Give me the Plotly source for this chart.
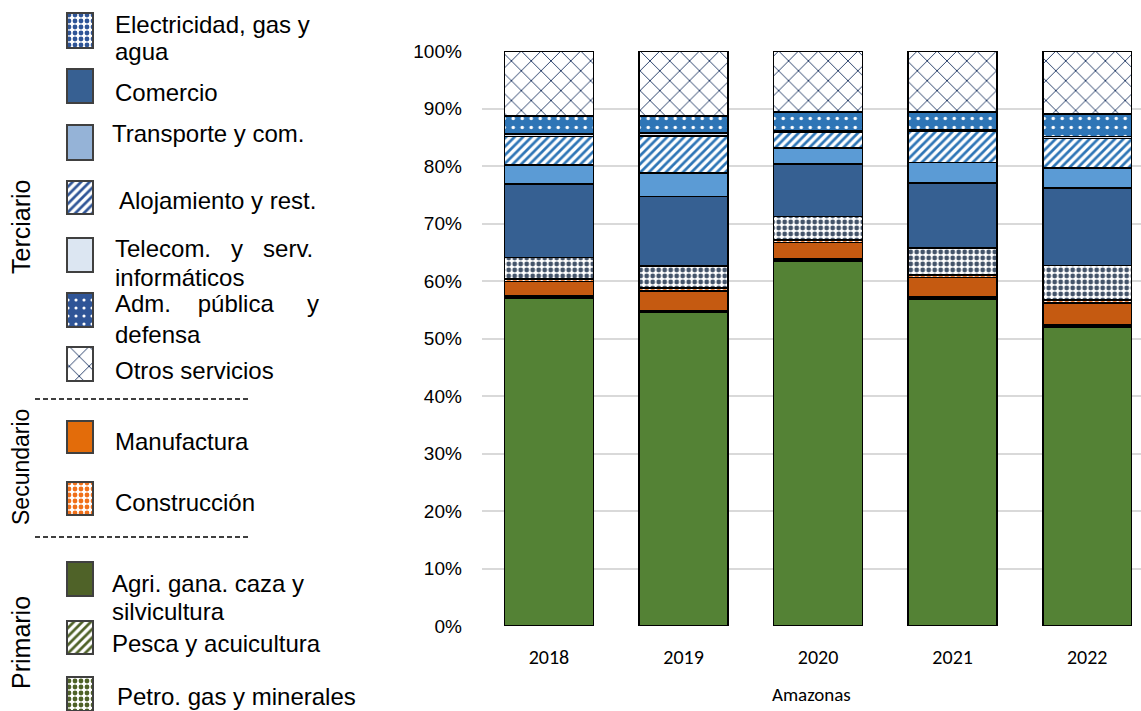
import plotly.graph_objects as go

# ---- data: share of departmental GDP by activity (%) ----
years = ["2018", "2019", "2020", "2021", "2022"]

agri = [57.0, 54.5, 63.4, 56.9, 51.9]
pesca = [0.2, 0.2, 0.2, 0.2, 0.2]
petro = [0.2, 0.2, 0.2, 0.2, 0.2]
manufactura = [2.5, 3.4, 2.9, 3.3, 3.9]
construccion = [0.5, 0.5, 0.4, 0.4, 0.5]
electricidad = [3.7, 3.8, 4.1, 4.7, 6.0]
comercio = [12.8, 12.1, 9.1, 11.3, 13.5]
transporte = [3.3, 4.1, 2.8, 3.6, 3.5]
alojamiento = [4.9, 6.4, 2.7, 5.4, 5.1]
telecom = [0.5, 0.5, 0.3, 0.3, 0.3]
adm_publica = [3.1, 3.0, 3.3, 3.1, 3.9]
otros = [11.3, 11.3, 10.6, 10.6, 11.0]

y_ticks = [0, 10, 20, 30, 40, 50, 60, 70, 80, 90, 100]
y_tick_text = [f"{v}%" for v in y_ticks]
x_title = "Amazonas"

W, H = 1141, 711
ARIAL = "Arial, Liberation Sans, sans-serif"
CALIBRI = "Carlito, Lato, sans-serif"


def pat(shape="", fg=None, bg=None, size=8, solidity=0.3):
    if not shape:
        return dict(shape="")
    return dict(shape=shape, fgcolor=fg, bgcolor=bg, size=size,
                solidity=solidity, fillmode="replace")


# stacking order, bottom to top: (name, values, bar colour, bar pattern)
series = [
    ("Agri. gana. caza y silvicultura", agri, "#548235", pat()),
    ("Pesca y acuicultura", pesca, "#548235", pat("/", "#548235", "white", 6, 0.5)),
    ("Petro. gas y minerales", petro, "#548235", pat(".", "#548235", "white", 6, 0.5)),
    ("Manufactura", manufactura, "#C55A11", pat()),
    ("Construcción", construccion, "#ED7D31", pat(".", "#ED7D31", "white", 6, 0.5)),
    ("Electricidad, gas y agua", electricidad, "#44546A", pat(".", "#44546A", "white", 6, 0.5)),
    ("Comercio", comercio, "#366092", pat()),
    ("Transporte y com.", transporte, "#5B9BD5", pat()),
    ("Alojamiento y rest.", alojamiento, "#2E75B6", pat("/", "#2E75B6", "white", 6, 0.45)),
    ("Telecom. y serv. informáticos", telecom, "#DAE3F3", pat()),
    ("Adm. pública y defensa", adm_publica, "#2E75B6", pat(".", "white", "#2E75B6", 9, 0.12)),
    ("Otros servicios", otros, "white", pat("x", "#203864", "white", 14, 0.13)),
]

fig = go.Figure()

for name, vals, color, p in series:
    fig.add_trace(go.Bar(
        x=years, y=vals, name=name, width=0.66,
        marker=dict(color=color, pattern=p, line=dict(color="black", width=1.6)),
        showlegend=False,
    ))

# ---- hand-built legend: swatches are bars on a hidden pixel-space axis ----
NB = "\u00a0"
legend_rows = [
    # name, swatch top, swatch height, swatch colour, pattern, text lines [(text, x, centre y)]
    ("Electricidad, gas y agua", 13, 35, "#2F5597", pat(".", "#2F5597", "white", 6, 0.5),
     [("Electricidad, gas y", 113, 24), ("agua", 113, 52)]),
    ("Comercio", 69, 34, "#376092", pat(), [("Comercio", 113, 92)]),
    ("Transporte y com.", 125, 35, "#95B3D7", pat(), [("Transporte y com.", 110, 133)]),
    ("Alojamiento y rest.", 181, 33, "#2F5597", pat("/", "#2F5597", "white", 6, 0.45),
     [("Alojamiento y rest.", 117, 200)]),
    ("Telecom. y serv. informáticos", 238, 34, "#DCE6F2", pat(),
     [(f"Telecom.{NB*2} y{NB*2} serv.", 113, 248), ("informáticos", 113, 277)]),
    ("Adm. pública y defensa", 293, 34, "#2F5597", pat(".", "white", "#2F5597", 8, 0.12),
     [(f"Adm.{NB*3} pública{NB*4} y", 113, 304), ("defensa", 113, 335)]),
    ("Otros servicios", 347, 34, "white", pat("x", "#203864", "white", 14, 0.13),
     [("Otros servicios", 113, 370)]),
    ("Manufactura", 421, 32, "#E36C0A", pat(), [("Manufactura", 113, 441)]),
    ("Construcción", 482, 33, "#F79646", pat(".", "#F0701A", "white", 6, 0.5),
     [("Construcción", 113, 503)]),
    ("Agri. gana. caza y silvicultura", 562, 34, "#4F6228", pat(),
     [("Agri. gana. caza y", 110, 583), ("silvicultura", 110, 611)]),
    ("Pesca y acuicultura", 621, 33, "#4F6228", pat("/", "#4F6228", "white", 6, 0.45),
     [("Pesca y acuicultura", 110, 643)]),
    ("Petro. gas y minerales", 677, 34, "#4F6228", pat(".", "#4F6228", "white", 6, 0.5),
     [("Petro. gas y minerales", 115, 696)]),
]

LEG_FRAC = 0.4
for name, top, h, color, p, lines in legend_rows:
    fig.add_trace(go.Bar(
        x=[80], y=[h], base=[top], width=26,
        xaxis="x2", yaxis="y2",
        marker=dict(color=color, pattern=p, line=dict(color="#404040", width=1.2)),
        showlegend=False, hoverinfo="skip",
    ))

annotations = []
text_font = dict(family=ARIAL, size=24, color="black")
for name, top, h, color, p, lines in legend_rows:
    for txt, tx, ty in lines:
        annotations.append(dict(
            text=txt, x=tx / W, y=1 - ty / H, xref="paper", yref="paper",
            xanchor="left", yanchor="middle", align="left", showarrow=False, font=text_font,
        ))

# sector group labels
for label, cy, size in [("Terciario", 227, 25), ("Secundario", 467, 23), ("Primario", 643, 25)]:
    annotations.append(dict(
        text=label, x=21 / W, y=1 - cy / H, xref="paper", yref="paper",
        xanchor="center", yanchor="middle", textangle=-90, showarrow=False,
        font=dict(family=ARIAL, size=size, color="black"),
    ))

shapes = [
    dict(type="line", xref="paper", yref="paper", x0=35 / W, x1=250 / W,
         y0=1 - yy / H, y1=1 - yy / H, line=dict(color="black", width=1.5, dash="5px,3px"))
    for yy in (399, 537)
]

plot_left = 481.7
fig.update_layout(
    width=W, height=H,
    margin=dict(l=0, r=0, t=0, b=0, autoexpand=False),
    paper_bgcolor="white", plot_bgcolor="white",
    barmode="stack",
    showlegend=False,
    annotations=annotations, shapes=shapes,
    xaxis=dict(
        domain=[plot_left / W, 1], range=[-0.5, 4.4], type="category",
        automargin=False,
        showgrid=False, zeroline=False, showline=False,
        ticks="outside", ticklen=13, tickcolor="rgba(0,0,0,0)",
        tickfont=dict(family=CALIBRI, size=20, color="black"),
        title=dict(text=x_title, standoff=19,
                   font=dict(family=CALIBRI, size=19, color="black")),
    ),
    yaxis=dict(
        domain=[(H - 626) / H, (H - 51) / H], range=[0, 100],
        automargin=False,
        tickmode="array", tickvals=y_ticks, ticktext=y_tick_text,
        showgrid=True, gridcolor="#D9D9D9", gridwidth=2,
        zeroline=False, showline=False,
        ticks="outside", ticklen=15, tickcolor="rgba(0,0,0,0)",
        tickfont=dict(family=ARIAL, size=19, color="black"),
    ),
    xaxis2=dict(domain=[0, LEG_FRAC], range=[0, LEG_FRAC * W], visible=False,
                anchor="y2", fixedrange=True, automargin=False),
    yaxis2=dict(domain=[0, 1], range=[H, 0], visible=False, anchor="x2",
                fixedrange=True, automargin=False),
)

fig.write_html("out.html")
